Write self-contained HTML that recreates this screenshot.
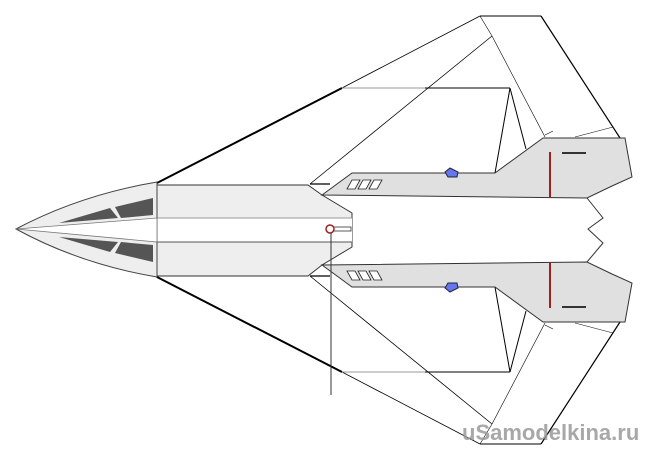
<!DOCTYPE html>
<html><head><style>body{margin:0;background:#fff}svg{display:block}</style></head><body>
<svg width="650" height="462" viewBox="0 0 650 462" xmlns="http://www.w3.org/2000/svg">
<g id="w" fill="none" stroke="#000" stroke-width="1">
<polygon points="157,184 342,88 480,16 541,16 620,138 575,140 545,138 495,173 352,173 322,184" fill="#fff" stroke="none"/>
<line x1="157" y1="183" x2="342" y2="88" stroke-width="2"/>
<line x1="342" y1="88" x2="480" y2="16" stroke-width="0.8"/>
<line x1="480" y1="16" x2="541" y2="16"/>
<line x1="541" y1="16" x2="620" y2="138" stroke-width="1.2"/>
<line x1="342" y1="88" x2="510" y2="88" stroke="#999"/>
<line x1="425" y1="88" x2="510" y2="88"/>
<line x1="510" y1="88" x2="495" y2="173"/>
<line x1="510" y1="88" x2="526" y2="149"/>
<line x1="310" y1="184" x2="492" y2="36" stroke-width="0.8"/>
<line x1="480" y1="16" x2="492" y2="36" stroke-width="0.6"/>
<line x1="492" y1="36" x2="545" y2="137" stroke-width="0.6"/>
<line x1="575" y1="137" x2="613" y2="127" stroke-width="0.5"/>
<line x1="545" y1="135" x2="553" y2="131" stroke-width="0.6"/>
<line x1="310" y1="184" x2="330" y2="184" stroke-width="1.2"/>
</g>
<use href="#w" transform="translate(0,460) scale(1,-1)"/>
<polygon points="157,185 308,185 322,195 352,213 352,247 322,265 308,276 157,276" fill="#eee" stroke="#333" stroke-width="1"/>
<rect x="157" y="218" width="195" height="24" fill="#fff"/>
<line x1="157" y1="218" x2="352" y2="218" stroke="#999"/>
<line x1="157" y1="242" x2="352" y2="242" stroke="#555"/>
<line x1="157" y1="182" x2="157" y2="278" stroke="#000"/>
<path d="M16,229 Q80,195 157,182 L157,277 Q80,264 16,229 Z" fill="#eee" stroke="#444" stroke-width="1"/>
<path d="M16,229 L157,218 L157,242 Z" fill="#fff" stroke="#777" stroke-width="0.8"/>
<polygon points="59,223 110,208 118,218" fill="#555"/>
<polygon points="115,207 153,198 153,215 121,218" fill="#555"/>
<polygon points="59,237 110,252 118,242" fill="#555"/>
<polygon points="115,253 153,262 153,245 121,242" fill="#555"/>
<g id="n">
<polygon points="322,195 352,173 495,173 543,138 625,138 632,177 612,186 587,198" fill="#e0e0e0" stroke="#333" stroke-width="1"/>
<line x1="550" y1="152" x2="550" y2="197" stroke="#a02020" stroke-width="2"/>
<line x1="562" y1="153" x2="586" y2="153" stroke="#333" stroke-width="2"/>
<g fill="#fff" stroke="#222" stroke-width="0.8">
<polygon points="347,189 352,180 360,180 355,189"/>
<polygon points="358,189 363,180 371,180 366,189"/>
<polygon points="369,189 374,180 382,180 377,189"/>
</g>
</g>
<use href="#n" transform="translate(0,460) scale(1,-1)"/>
<polyline points="587,198 603,218 588,229 603,243 587,262" fill="#fff" stroke="#333"/>
<polygon points="445,172 450,168 458,172 457,177 448,177" fill="#6677ee" stroke="#223"/>
<polygon points="445,288 450,292 458,288 457,283 448,283" fill="#6677ee" stroke="#223"/>
<line x1="331" y1="229" x2="331" y2="395" stroke="#333"/>
<rect x="331" y="227" width="20" height="4" fill="#fff" stroke="#333" stroke-width="0.8"/>
<circle cx="330" cy="229" r="4" fill="#fff" stroke="#a02020" stroke-width="1.5"/>
<text x="462" y="440" font-family="Liberation Sans, sans-serif" font-size="22" font-weight="bold" fill="#999" opacity="0.85">uSamodelkina.ru</text>
</svg>
</body></html>
